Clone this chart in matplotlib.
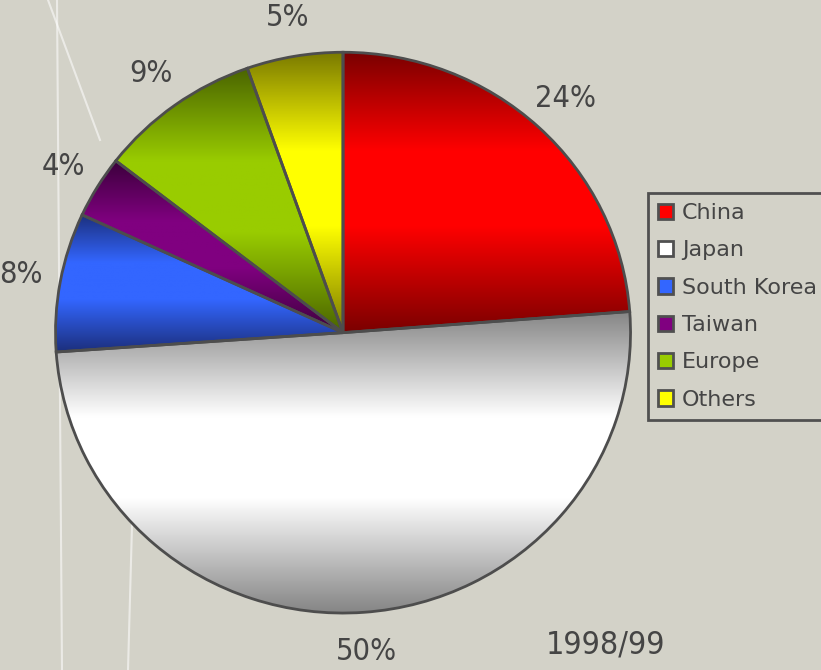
import matplotlib.pyplot as plt
from matplotlib.colors import LinearSegmentedColormap
from matplotlib.lines import Line2D
from matplotlib.patches import Patch
import numpy as np

regions = ['China', 'Japan', 'South Korea', 'Taiwan', 'Europe', 'Others']
shares = [23.8, 50.1, 8.0, 3.6, 9.1, 5.4]
period = '1998/99'

# dark edge colour, bright middle colour for each slice
dark_cols = ['#7a0000', '#858585', '#1c2f7c', '#3c003c', '#4a6400', '#7a7a00']
light_cols = ['#ff0000', '#ffffff', '#3366ff', '#800080', '#99cc00', '#ffff00']

bg = '#d3d2c8'
txt = '#454545'

fig = plt.figure(figsize=(8.21, 6.70), dpi=100, facecolor=bg)

# faint decorative lines in the background
for xs, ys in [((57, 62), (0, 670)), ((48, 100), (0, 140)), ((135, 128), (417, 670))]:
    fig.add_artist(Line2D([x / 821 for x in xs], [1 - y / 670 for y in ys],
                          color='white', alpha=0.55, lw=1.5, zorder=0))

ax = fig.add_axes([0.0676, 0.085, 0.7004, 0.837])
ax.set_facecolor('none')
ax.axis('off')

wedges, _ = ax.pie(shares, startangle=90, counterclock=False, radius=1,
                   wedgeprops=dict(edgecolor='#4d4d4d', linewidth=2, facecolor='none'))

for w, d, l in zip(wedges, dark_cols, light_cols):
    ext = w.get_path().get_extents()
    cmap = LinearSegmentedColormap.from_list('g', [(0, d), (0.35, l), (0.62, l), (1, d)])
    grad = np.linspace(0, 1, 256).reshape(-1, 1)
    im = ax.imshow(grad, cmap=cmap, aspect='auto', origin='upper',
                   extent=(ext.x0, ext.x1, ext.y0, ext.y1), zorder=1)
    im.set_clip_path(w)
    w.set_zorder(2)

for w, v in zip(wedges, shares):
    ang = np.deg2rad((w.theta1 + w.theta2) / 2)
    ax.text(1.14 * np.cos(ang), 1.14 * np.sin(ang), f'{v:.0f}%', ha='center', va='center',
            fontsize=22, color=txt, family='DejaVu Sans', fontstretch='condensed')

ax.set_xlim(-1, 1)
ax.set_ylim(-1, 1)

handles = [Patch(facecolor=c, edgecolor='#505050', linewidth=2) for c in light_cols]
leg = fig.legend(handles, regions, loc='upper left', bbox_to_anchor=(648 / 821, 1 - 193 / 670),
                 borderaxespad=0, fontsize=16, handlelength=0.68, handleheight=0.68,
                 handletextpad=0.4, borderpad=0.45, labelspacing=0.78, fancybox=False,
                 framealpha=1, facecolor=bg, edgecolor='#505050')
leg.get_frame().set_linewidth(2)
for t in leg.get_texts():
    t.set_color(txt)

fig.text(606 / 821, 1 - 645 / 670, period, ha='center', va='center',
         fontsize=23, color=txt, family='DejaVu Sans', fontstretch='condensed')

fig.savefig('out.png', dpi=100, facecolor=bg)
